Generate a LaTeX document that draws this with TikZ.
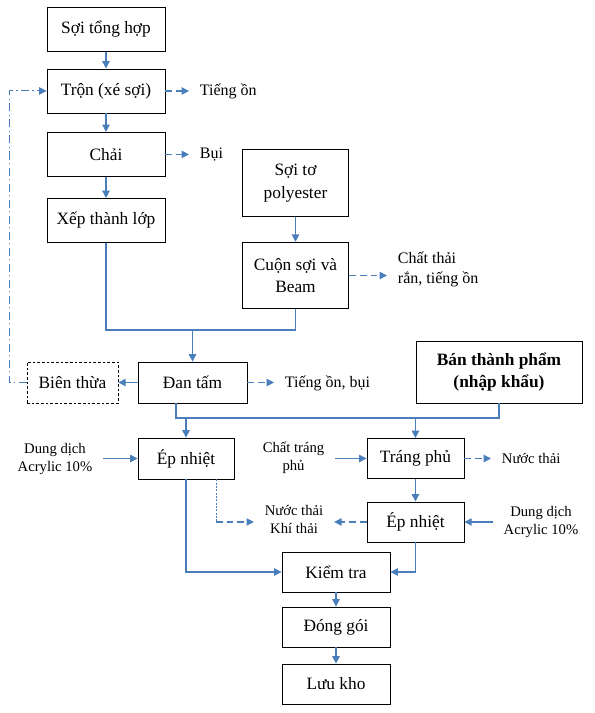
\documentclass[tikz,border=0pt]{standalone}
\usepackage{fontspec}
\setmainfont{Liberation Serif}
\usetikzlibrary{arrows.meta}
\definecolor{flowblue}{HTML}{4A7EBB}

\begin{document}
\begin{tikzpicture}[x=0.75pt, y=-0.75pt, auto,
        box/.style={draw, rectangle, line width=0.65pt, align=center, inner sep=0pt,
            font=\fontsize{13}{17}\selectfont, minimum width=88.5pt, minimum height=33pt},
        note/.style={align=center, inner xsep=8pt, inner ysep=0pt, font=\fontsize{12}{15.5}\selectfont},
        smallnote/.style={note, font=\fontsize{11}{13.5}\selectfont},
        arrow/.style={draw=flowblue, line width=0.9pt, -{Triangle[length=5.5pt, width=5.5pt]}},
        line/.style={draw=flowblue, line width=0.9pt},
        waste/.style={arrow, dash pattern=on 5pt off 3pt},
        back/.style={arrow, line width=0.75pt, dash pattern=on 6pt off 2.5pt on 1pt off 2.5pt}]
        \useasboundingbox (0,0) rectangle (594,713);

        % Nodes
        \node (soi) [box] at (106,29.5) {Sợi tổng hợp};
        \node (tron) [box, below of=soi, node distance=46.1pt] {Trộn (xé sợi)};
        \node (chai) [box, below of=tron, node distance=47.6pt] {Chải};
        \node (xep) [box, below of=chai, node distance=49.5pt] {Xếp thành lớp};
        \node (poly) [box, minimum width=80pt, minimum height=50pt] at (295.5,183) {Sợi tơ\\polyester};
        \node (cuon) [box, minimum width=80pt, minimum height=50pt, below of=poly, node distance=69.4pt] {Cuộn sợi và\\Beam};
        \node (dan) [box, minimum width=81.75pt, minimum height=30.75pt] at (192.5,382.5) {Đan tấm};
        \node (bien) [box, line width=0.6pt, dash pattern=on 2pt off 1.5pt, minimum width=68.25pt, minimum height=30.75pt, left of=dan, node distance=90pt] {Biên thừa};
        \node (ban) [box, minimum width=124.5pt, minimum height=46.5pt, font=\fontsize{13}{16.5}\selectfont\bfseries] at (499,372) {Bán thành phẩm\\(nhập khẩu)};
        \node (ep1) [box, minimum width=72pt, minimum height=30.75pt] at (186,458.5) {Ép nhiệt};
        \node (trang) [box, minimum width=72.75pt, minimum height=30pt, right of=ep1, node distance=172.1pt] {Tráng phủ};
        \node (ep2) [box, minimum width=72.75pt, minimum height=30pt, below of=trang, node distance=47.6pt] {Ép nhiệt};
        \node (kiem) [box, minimum width=81pt, minimum height=30pt] at (336,572) {Kiểm tra};
        \node (dong) [box, minimum width=81pt, minimum height=30pt, below of=kiem, node distance=41.25pt] {Đóng gói};
        \node (luu) [box, minimum width=81pt, minimum height=30pt, below of=dong, node distance=42.75pt] {Lưu kho};

        % Side labels
        \node (lbt) [note, anchor=west] at (189,91) {Tiếng ồn};
        \node (lbb) [note, anchor=west] at (189,154.5) {Bụi};
        \node (lbc) [note, align=left, anchor=west] at (387,269.5) {Chất thải\\rắn, tiếng ồn};
        \node (lbd) [note, anchor=west] at (274,383.5) {Tiếng ồn, bụi};
        \node (lba1) [smallnote] at (55,459) {Dung dịch\\Acrylic 10\%};
        \node (lbctp) [smallnote] at (293.5,457.5) {Chất tráng\\phủ};
        \node (lbnt) [smallnote, anchor=west] at (491,458) {Nước thải};
        \node (lbnk) [smallnote] at (294,519) {Nước thải\\Khí thải};
        \node (lba2) [smallnote] at (541,522) {Dung dịch\\Acrylic 10\%};

        \coordinate (m1) at (192.5,330);
        \coordinate (m2) at (0,418);
        \coordinate[xshift=-12.4pt] (c0) at (dan.south);
        \coordinate[xshift=22.5pt] (c1) at (ep1.south);

        % Edges
        \draw[arrow] (soi) -- (tron);
        \draw[arrow] (tron) -- (chai);
        \draw[arrow] (chai) -- (xep);
        \draw[waste] (tron) -- (tron -| lbt.west);
        \draw[waste] (chai) -- (chai -| lbb.west);
        \draw[arrow] (poly) -- (cuon);
        \draw[waste] (cuon) -- (cuon -| lbc.west);
        \draw[line] (xep.south) |- (m1) -| (cuon.south);
        \draw[arrow] (m1) -- (dan);
        \draw[arrow] (dan) -- (bien);
        \draw[waste] (dan) -- (dan -| lbd.west);
        \draw[back] (bien.west) -- ++(-17,0) |- (tron.west);
        \draw[line] (c0) |- (ban.south |- m2) -- (ban.south);
        \draw[arrow] (ep1.north |- m2) -- (ep1);
        \draw[arrow] (trang.north |- m2) -- (trang);
        \draw[arrow] (lba1.east |- ep1) -- (ep1);
        \draw[arrow] (lbctp.east |- trang) -- (trang);
        \draw[waste] (trang) -- (trang -| lbnt.west);
        \draw[arrow] (trang) -- (ep2);
        \draw[arrow] (lba2.west |- ep2) -- (ep2);
        \draw[waste] (ep2) -- (ep2 -| lbnk.east);
        \draw[line, line width=0.75pt, dash pattern=on 1.5pt off 1pt] (c1) -- (c1 |- ep2);
        \draw[waste] (c1 |- ep2) -- (ep2 -| lbnk.west);
        \draw[arrow] (ep1.south) |- (kiem);
        \draw[arrow] (ep2.south) |- (kiem);
        \draw[arrow] (kiem) -- (dong);
        \draw[arrow] (dong) -- (luu);
    \end{tikzpicture}
\end{document}
